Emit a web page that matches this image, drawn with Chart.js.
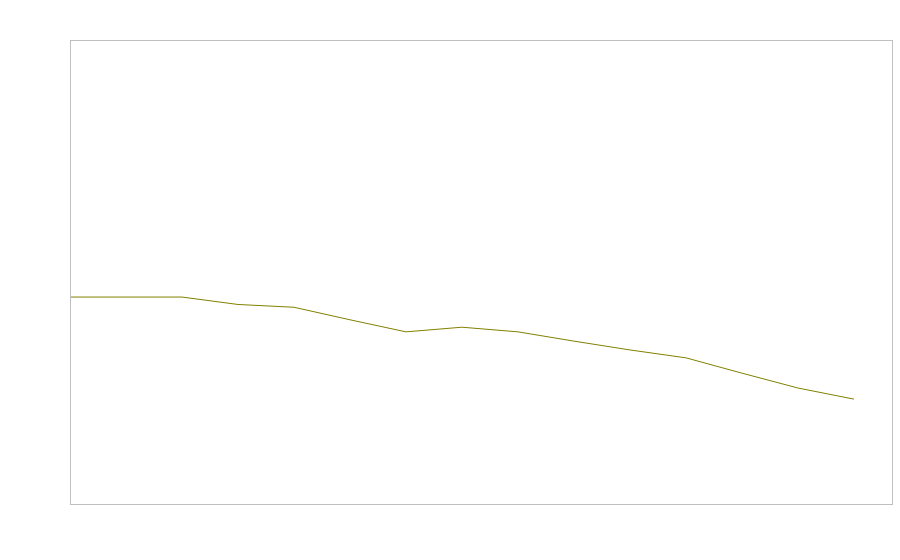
<!DOCTYPE html>
<html>
<head>
<meta charset="utf-8">
<style>
  html, body { margin: 0; padding: 0; background: #ffffff; }
  #chart { display: block; }
</style>
<script src="https://cdn.jsdelivr.net/npm/chart.js@4/dist/chart.umd.min.js"></script>
</head>
<body>
<canvas id="chart" width="900" height="560"></canvas>
<script>
// Data (no labels visible, index positions)
const xPositions = [0, 1, 2, 3, 4, 5, 6, 7, 8, 9, 10, 11, 12, 13, 14];
const seriesValues = [44.6, 44.6, 44.6, 43.0, 42.4, 39.7, 37.1, 38.1, 37.1, 35.1, 33.2, 31.5, 28.2, 25.0, 22.6];
const xRange = [0, 14.68];
const yRange = [0, 100];

// Draws the thin grey frame around the plot area
const frameBox = {
  id: "frameBox",
  afterDraw(chart) {
    const { ctx, chartArea } = chart;
    ctx.save();
    ctx.strokeStyle = "#c0c0c0";
    ctx.lineWidth = 1;
    ctx.strokeRect(
      Math.round(chartArea.left) + 0.5,
      Math.round(chartArea.top) + 0.5,
      Math.round(chartArea.right - chartArea.left),
      Math.round(chartArea.bottom - chartArea.top)
    );
    ctx.restore();
  },
};

const ctx = document.getElementById("chart").getContext("2d");

new Chart(ctx, {
  type: "line",
  data: {
    datasets: [
      {
        data: xPositions.map((x, i) => ({ x: x, y: seriesValues[i] })),
        borderColor: "#808000",
        borderWidth: 1,
        pointRadius: 0,
        tension: 0,
        fill: false,
      },
    ],
  },
  options: {
    responsive: false,
    animation: false,
    layout: {
      padding: { left: 70, top: 40, right: 8, bottom: 56 },
    },
    plugins: {
      legend: { display: false },
      tooltip: { enabled: false },
    },
    scales: {
      x: { type: "linear", min: xRange[0], max: xRange[1], display: false },
      y: { type: "linear", min: yRange[0], max: yRange[1], display: false },
    },
  },
  plugins: [frameBox],
});
</script>
</body>
</html>
